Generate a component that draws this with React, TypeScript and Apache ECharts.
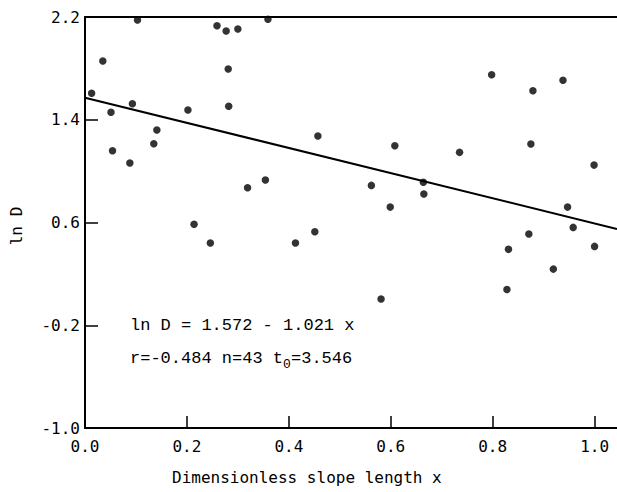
import React, { useEffect, useRef } from "react";
import * as echarts from "echarts";

const xValues = [
  0.013, 0.035, 0.103, 0.051, 0.093, 0.054, 0.088, 0.135, 0.141, 0.202,
  0.259, 0.277, 0.3, 0.281, 0.282, 0.359, 0.214, 0.246, 0.319, 0.354,
  0.413, 0.451, 0.457, 0.798, 0.879, 0.938, 0.608, 0.735, 0.875, 0.999,
  0.562, 0.664, 0.665, 0.599, 0.947, 0.958, 0.871, 0.831, 1.0, 0.919,
  0.828, 0.581,
];
const yValues = [
  1.606, 1.857, 2.177, 1.458, 1.525, 1.159, 1.063, 1.213, 1.32, 1.476,
  2.132, 2.091, 2.107, 1.795, 1.505, 2.182, 0.586, 0.44, 0.871, 0.931,
  0.44, 0.528, 1.273, 1.751, 1.626, 1.707, 1.198, 1.146, 1.211, 1.047,
  0.889, 0.913, 0.822, 0.72, 0.72, 0.562, 0.51, 0.391, 0.414, 0.237,
  0.079, 0.004,
];
const fitX = [0, 1.044];
const fitY = [1.572, 0.55];
const yTicks = ["-1.0", "-0.2", "0.6", "1.4", "2.2"];
const xTicks = ["0.0", "0.2", "0.4", "0.6", "0.8", "1.0"];
const equationText = "ln D = 1.572 - 1.021 x";
const statsText = "r=-0.484 n=43 t";
const statsSub = "0";
const statsTail = "=3.546";
const xName = "Dimensionless slope length x";
const yName = "ln D";

const TICK_FONT = "DejaVu Sans Mono";
const NOTE_FONT = "Liberation Mono";

export default function App() {
  const ref = useRef<HTMLDivElement>(null);
  useEffect(() => {
    if (!ref.current) return;
    const chart = echarts.init(ref.current, null, { renderer: "svg" });
    const points = xValues.map((x, i) => [x, yValues[i]]);
    const fit = fitX.map((x, i) => [x, fitY[i]]);
    const axisLine = { show: true, onZero: false, lineStyle: { color: "#000", width: 2 } };
    chart.setOption({
      animation: false,
      backgroundColor: "#fff",
      grid: { left: 85, right: 0, top: 17, bottom: 64, containLabel: false },
      xAxis: [
        {
          type: "value",
          min: 0,
          max: 1.044,
          interval: 0.2,
          position: "bottom",
          axisLine,
          axisTick: { show: true, inside: true, length: 12, lineStyle: { color: "#000", width: 1.5 } },
          axisLabel: {
            color: "#000",
            fontFamily: TICK_FONT,
            fontSize: 16,
            margin: 10,
            showMaxLabel: false,
            formatter: (v: number) => {
              const idx = Math.round(v / 0.2);
              return xTicks[idx] ?? "";
            },
          },
          splitLine: { show: false },
        },
        {
          type: "value",
          min: 0,
          max: 1.044,
          position: "top",
          axisLine,
          axisTick: { show: false },
          axisLabel: { show: false },
          splitLine: { show: false },
        },
      ],
      yAxis: {
        type: "value",
        min: -1.0,
        max: 2.2,
        interval: 0.8,
        axisLine,
        axisTick: { show: true, inside: true, length: 13, lineStyle: { color: "#000", width: 1.5 } },
        axisLabel: {
          color: "#000",
          fontFamily: TICK_FONT,
          fontSize: 16,
          margin: 5,
          formatter: (v: number) => {
            const idx = Math.round((v + 1.0) / 0.8);
            return yTicks[idx] ?? "";
          },
        },
        splitLine: { show: false },
      },
      series: [
        {
          type: "scatter",
          data: points,
          symbol: "circle",
          symbolSize: 7.5,
          itemStyle: { color: "#000" },
          silent: true,
        },
        {
          type: "line",
          data: fit,
          symbol: "none",
          lineStyle: { color: "#000", width: 2 },
          silent: true,
        },
      ],
      graphic: [
        {
          type: "text",
          left: 130,
          top: 317,
          style: { text: equationText, font: `17px "${NOTE_FONT}"`, fill: "#000" },
        },
        {
          type: "text",
          left: 130,
          top: 350,
          style: { text: statsText, font: `17px "${NOTE_FONT}"`, fill: "#000" },
        },
        {
          type: "text",
          left: 283,
          top: 358,
          style: { text: statsSub, font: `13px "${NOTE_FONT}"`, fill: "#000" },
        },
        {
          type: "text",
          left: 291,
          top: 350,
          style: { text: statsTail, font: `17px "${NOTE_FONT}"`, fill: "#000" },
        },
        {
          type: "text",
          left: 172,
          top: 469,
          style: { text: xName, font: `16px "${TICK_FONT}"`, fill: "#000" },
        },
        {
          type: "text",
          x: 16,
          y: 226,
          rotation: Math.PI / 2,
          style: {
            text: yName,
            font: `16px "${TICK_FONT}"`,
            fill: "#000",
            align: "center",
            verticalAlign: "middle",
          },
        },
      ],
    });
    return () => chart.dispose();
  }, []);
  return (
    <div
      ref={ref}
      style={{ position: "fixed", left: 0, top: 0, width: 617, height: 492, background: "#fff" }}
    />
  );
}
